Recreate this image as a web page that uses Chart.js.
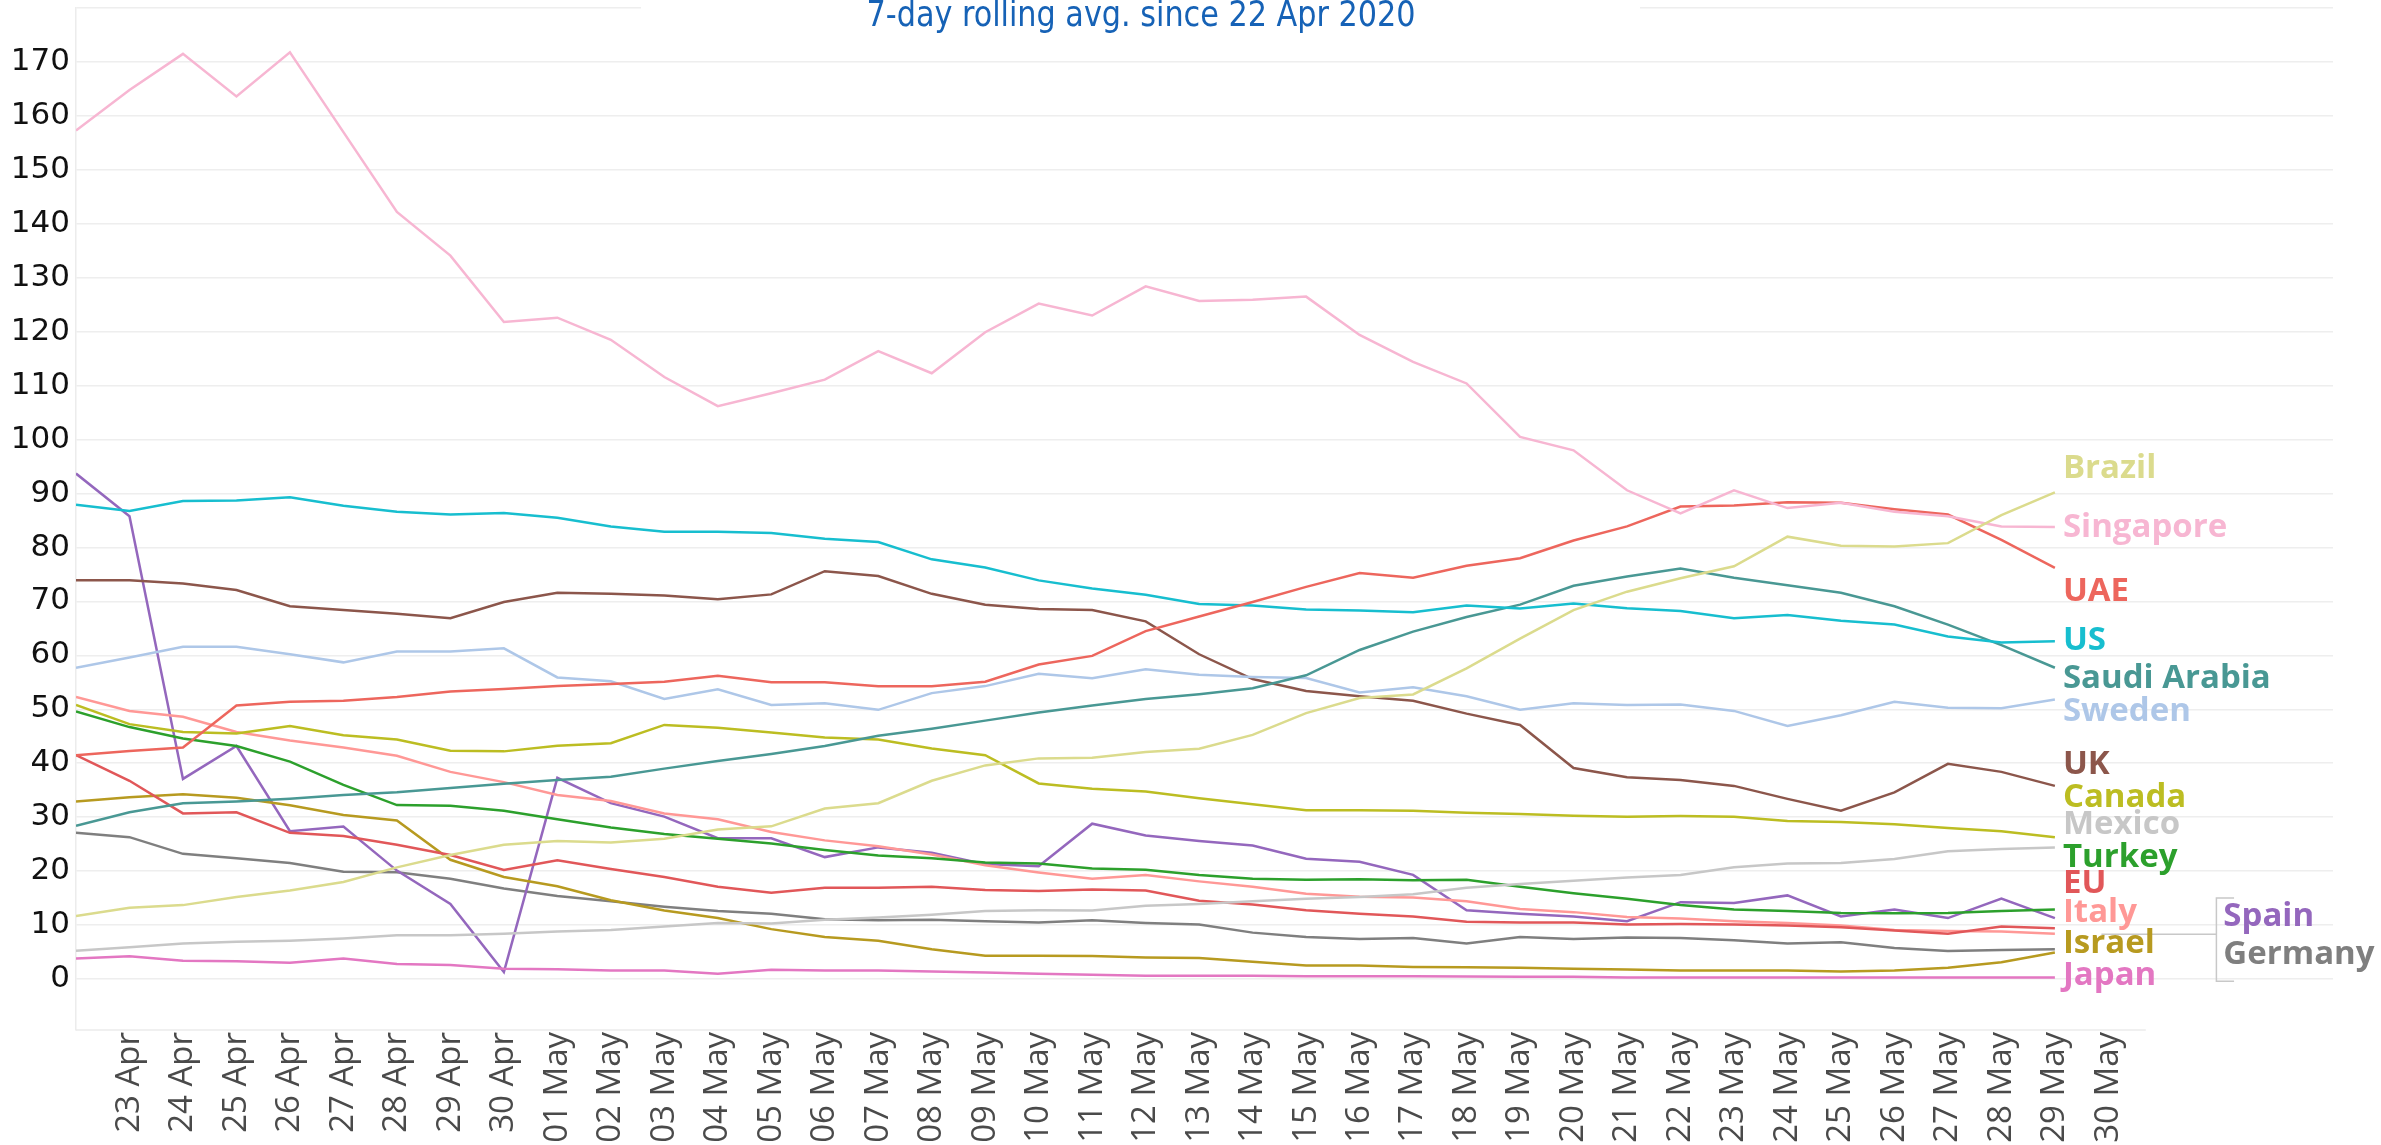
<!DOCTYPE html>
<html>
<head>
<meta charset="utf-8">
<title>7-day rolling avg. since 22 Apr 2020</title>
<script src="https://cdn.jsdelivr.net/npm/chart.js@4.4.0/dist/chart.umd.min.js"></script>
<style>
  html, body { margin: 0; padding: 0; background: #ffffff; }
  #chart { display: block; }
</style>
</head>
<body>
<canvas id="chart" width="2381" height="1145"></canvas>
<script>
// x axis: one entry per day, 22 Apr .. 30 May (data runs to 29 May)
const dayLabels = [
    '22 Apr', '23 Apr', '24 Apr', '25 Apr', '26 Apr', '27 Apr', '28 Apr', '29 Apr', '30 Apr',
    '01 May', '02 May', '03 May', '04 May', '05 May', '06 May', '07 May', '08 May', '09 May',
    '10 May', '11 May', '12 May', '13 May', '14 May', '15 May', '16 May', '17 May', '18 May',
    '19 May', '20 May', '21 May', '22 May', '23 May', '24 May', '25 May', '26 May', '27 May',
    '28 May', '29 May', '30 May'
];

const yTicks = [0, 10, 20, 30, 40, 50, 60, 70, 80, 90, 100, 110, 120, 130, 140, 150, 160, 170, 180];

// series values, 22 Apr .. 29 May
const singapore = [157.3, 164.8, 171.5, 163.6, 171.8, 157.0, 142.2, 134.1, 121.8, 122.6, 118.5, 111.6, 106.2, 108.6, 111.1, 116.4, 112.3, 119.9, 125.2, 123.0, 128.4, 125.7, 125.9, 126.5, 119.4, 114.4, 110.4, 100.5, 98.0, 90.6, 86.3, 90.6, 87.3, 88.3, 86.6, 85.8, 83.9, 83.8];
const us = [87.9, 86.75, 88.6, 88.7, 89.3, 87.75, 86.6, 86.1, 86.4, 85.5, 83.9, 82.9, 82.9, 82.7, 81.6, 81.0, 77.8, 76.3, 73.9, 72.4, 71.25, 69.5, 69.25, 68.5, 68.3, 68.0, 69.25, 68.7, 69.6, 68.75, 68.2, 66.9, 67.5, 66.4, 65.7, 63.5, 62.4, 62.6];
const spain = [93.7, 85.8, 37.1, 43.2, 27.4, 28.25, 20.1, 13.9, 1.3, 37.3, 32.6, 30.1, 26.1, 26.1, 22.6, 24.4, 23.4, 21.3, 20.9, 28.8, 26.6, 25.6, 24.75, 22.3, 21.75, 19.3, 12.75, 12.1, 11.6, 10.7, 14.25, 14.1, 15.5, 11.6, 12.9, 11.3, 14.9, 11.3];
const uk = [73.9, 73.9, 73.3, 72.1, 69.1, 68.4, 67.7, 66.9, 69.9, 71.6, 71.4, 71.1, 70.4, 71.3, 75.6, 74.7, 71.4, 69.4, 68.6, 68.4, 66.3, 60.2, 55.6, 53.4, 52.4, 51.6, 49.2, 47.1, 39.1, 37.4, 36.9, 35.8, 33.4, 31.2, 34.6, 39.9, 38.4, 35.8];
const sweden = [57.7, 59.6, 61.6, 61.6, 60.2, 58.7, 60.7, 60.7, 61.3, 55.9, 55.2, 51.9, 53.7, 50.8, 51.1, 49.9, 53.0, 54.3, 56.6, 55.75, 57.4, 56.4, 56.0, 55.8, 53.1, 54.1, 52.4, 49.9, 51.1, 50.8, 50.9, 49.7, 46.9, 48.9, 51.4, 50.3, 50.2, 51.8];
const uae = [41.5, 42.25, 42.9, 50.7, 51.4, 51.6, 52.3, 53.3, 53.75, 54.3, 54.7, 55.1, 56.2, 55.0, 55.0, 54.25, 54.25, 55.1, 58.3, 59.9, 64.5, 67.2, 69.9, 72.7, 75.25, 74.4, 76.6, 78.0, 81.3, 83.9, 87.6, 87.8, 88.4, 88.3, 87.1, 86.1, 81.4, 76.2];
const italy = [52.3, 49.7, 48.6, 45.8, 44.2, 42.9, 41.4, 38.4, 36.5, 34.1, 33.0, 30.7, 29.6, 27.25, 25.7, 24.6, 23.1, 21.1, 19.75, 18.6, 19.3, 18.1, 17.1, 15.8, 15.25, 15.1, 14.4, 13.0, 12.4, 11.5, 11.2, 10.7, 10.4, 9.9, 9.1, 8.9, 8.8, 8.4];
const canada = [50.8, 47.25, 45.8, 45.5, 46.9, 45.2, 44.4, 42.3, 42.2, 43.25, 43.7, 47.1, 46.6, 45.7, 44.75, 44.4, 42.75, 41.5, 36.25, 35.25, 34.75, 33.5, 32.4, 31.3, 31.3, 31.2, 30.8, 30.6, 30.25, 30.1, 30.2, 30.1, 29.3, 29.1, 28.7, 28.0, 27.4, 26.3];
const turkey = [49.6, 46.7, 44.6, 43.2, 40.3, 36.0, 32.25, 32.1, 31.2, 29.6, 28.1, 26.9, 26.0, 25.1, 23.9, 22.9, 22.4, 21.6, 21.4, 20.5, 20.25, 19.3, 18.6, 18.4, 18.5, 18.3, 18.4, 17.1, 15.9, 14.9, 13.7, 12.9, 12.6, 12.25, 12.2, 12.25, 12.6, 12.9];
const eu = [41.5, 36.75, 30.7, 30.9, 27.1, 26.5, 24.9, 23.0, 20.2, 22.0, 20.4, 18.9, 17.1, 16.0, 16.9, 16.9, 17.1, 16.5, 16.3, 16.6, 16.4, 14.5, 13.8, 12.75, 12.1, 11.6, 10.6, 10.5, 10.5, 10.1, 10.2, 10.1, 9.9, 9.6, 9.0, 8.4, 9.75, 9.4];
const israel = [32.9, 33.7, 34.25, 33.6, 32.2, 30.4, 29.4, 22.1, 18.9, 17.2, 14.6, 12.7, 11.3, 9.25, 7.8, 7.1, 5.5, 4.3, 4.3, 4.25, 4.0, 3.9, 3.2, 2.5, 2.5, 2.25, 2.2, 2.1, 1.9, 1.75, 1.6, 1.6, 1.6, 1.4, 1.6, 2.1, 3.1, 4.9];
const saudiArabia = [28.4, 30.9, 32.6, 32.9, 33.4, 34.1, 34.6, 35.4, 36.2, 36.9, 37.5, 39.0, 40.4, 41.7, 43.2, 45.1, 46.4, 47.9, 49.4, 50.7, 51.9, 52.8, 53.9, 56.3, 61.0, 64.4, 67.1, 69.4, 72.9, 74.6, 76.1, 74.4, 73.0, 71.6, 69.1, 65.7, 61.9, 57.7];
const germany = [27.1, 26.3, 23.2, 22.4, 21.5, 19.9, 19.8, 18.6, 16.8, 15.4, 14.4, 13.4, 12.6, 12.1, 11.1, 10.9, 11.0, 10.7, 10.5, 10.9, 10.4, 10.1, 8.6, 7.8, 7.4, 7.6, 6.6, 7.8, 7.4, 7.7, 7.6, 7.2, 6.6, 6.8, 5.75, 5.2, 5.4, 5.5];
const brazil = [11.7, 13.2, 13.7, 15.2, 16.4, 18.0, 20.7, 23.0, 24.9, 25.6, 25.3, 26.0, 27.7, 28.3, 31.6, 32.6, 36.75, 39.6, 40.9, 41.0, 42.1, 42.7, 45.25, 49.3, 52.1, 52.75, 57.6, 63.1, 68.4, 71.8, 74.3, 76.5, 82.0, 80.3, 80.2, 80.8, 86.0, 90.2];
const mexico = [5.25, 5.9, 6.6, 6.9, 7.1, 7.5, 8.1, 8.1, 8.4, 8.8, 9.1, 9.75, 10.4, 10.3, 11.0, 11.4, 11.9, 12.6, 12.75, 12.7, 13.6, 13.9, 14.4, 14.9, 15.2, 15.7, 16.9, 17.6, 18.2, 18.8, 19.3, 20.7, 21.4, 21.5, 22.25, 23.7, 24.1, 24.4];
const japan = [3.8, 4.2, 3.4, 3.3, 3.0, 3.8, 2.8, 2.6, 1.9, 1.8, 1.6, 1.6, 1.0, 1.7, 1.6, 1.6, 1.4, 1.2, 1.0, 0.8, 0.6, 0.6, 0.6, 0.5, 0.5, 0.5, 0.45, 0.4, 0.4, 0.3, 0.3, 0.3, 0.3, 0.3, 0.3, 0.3, 0.3, 0.3];

const countries = ['Brazil', 'Singapore', 'UAE', 'US', 'Saudi Arabia', 'Sweden', 'UK', 'Canada',
                   'Mexico', 'Turkey', 'EU', 'Italy', 'Israel', 'Japan', 'Spain', 'Germany'];
const seriesValues = [brazil, singapore, uae, us, saudiArabia, sweden, uk, canada,
                      mexico, turkey, eu, italy, israel, japan, spain, germany];
const seriesColors = ['#dbdb8d', '#f7b6d2', '#ed665d', '#17becf', '#499894', '#aec7e8', '#8c564b', '#bcbd22',
                      '#c7c7c7', '#2ca02c', '#e15759', '#ff9896', '#b79a20', '#e377c2', '#9467bd', '#7f7f7f'];

// end-of-line label spots (day index, value) - Spain/Germany sit in the bracket box
const labelSpots = [
    [37.15, 94.6], [37.15, 83.7], [37.15, 71.9], [37.15, 62.7], [37.15, 55.6], [37.15, 49.6],
    [37.15, 39.7], [37.15, 33.7], [37.15, 28.6], [37.15, 22.5], [37.15, 17.75], [37.15, 12.4],
    [37.15, 6.6], [37.15, 0.7], [40.15, 11.6], [40.15, 4.5]
];

const endLabels = {
    id: 'endLabels',
    afterDraw(chart) {
        const ctx = chart.ctx;
        const xs = chart.scales.x;
        const ys = chart.scales.y;
        const area = chart.chartArea;
        ctx.save();

        // title sits on the top gridline, with a white gap behind it
        ctx.fillStyle = '#ffffff';
        ctx.fillRect(641, 0, 999, 20);
        const title = '7-day rolling avg. since 22 Apr 2020';
        ctx.fillStyle = '#1662b6';
        ctx.font = '36px "Liberation Sans Narrow", "DejaVu Sans Condensed", sans-serif';
        ctx.textAlign = 'center';
        ctx.textBaseline = 'alphabetic';
        const squeeze = 549 / ctx.measureText(title).width;
        ctx.save();
        ctx.translate(1141, 26);
        ctx.scale(squeeze, 1);
        ctx.fillText(title, 0, 0);
        ctx.restore();

        // short x axis base line
        ctx.strokeStyle = '#ebebeb';
        ctx.lineWidth = 1.5;
        ctx.beginPath();
        ctx.moveTo(area.left, area.bottom);
        ctx.lineTo(xs.getPixelForValue(38.7), area.bottom);
        ctx.stroke();

        // bracket for Spain / Germany
        ctx.strokeStyle = '#c8c8c8';
        ctx.lineWidth = 1.5;
        const bx = xs.getPixelForValue(40.02);
        const bx2 = xs.getPixelForValue(40.35);
        const byTop = ys.getPixelForValue(15.0);
        const byBot = ys.getPixelForValue(-0.4);
        ctx.beginPath();
        ctx.moveTo(bx2, byTop);
        ctx.lineTo(bx, byTop);
        ctx.lineTo(bx, byBot);
        ctx.lineTo(bx2, byBot);
        ctx.moveTo(xs.getPixelForValue(37.87), ys.getPixelForValue(8.3));
        ctx.lineTo(bx, ys.getPixelForValue(8.3));
        ctx.stroke();

        ctx.font = 'bold 33px "Open Sans", "DejaVu Sans", sans-serif';
        ctx.textAlign = 'left';
        ctx.textBaseline = 'middle';
        countries.forEach((name, i) => {
            const spot = labelSpots[i];
            ctx.fillStyle = seriesColors[i];
            ctx.fillText(name, xs.getPixelForValue(spot[0]), ys.getPixelForValue(spot[1]));
        });
        ctx.restore();
    }
};

const datasets = countries.map((name, i) => ({
    label: name,
    data: seriesValues[i].map((v, d) => ({ x: d, y: v })),
    borderColor: seriesColors[i],
    backgroundColor: seriesColors[i],
    borderWidth: 2.5,
    pointRadius: 0,
    tension: 0,
    fill: false
}));

new Chart(document.getElementById('chart').getContext('2d'), {
    type: 'line',
    data: { datasets: datasets },
    plugins: [endLabels],
    options: {
        responsive: false,
        animation: false,
        devicePixelRatio: 1,
        layout: { padding: { top: 8, right: 48, left: 0, bottom: 0 } },
        plugins: {
            legend: { display: false },
            tooltip: { enabled: false }
        },
        scales: {
            x: {
                type: 'linear',
                min: 0,
                max: 42.2,
                grid: { display: false, drawTicks: false },
                border: { display: false },
                afterBuildTicks: (scale) => {
                    scale.ticks = dayLabels.map((_, i) => ({ value: i })).slice(1);
                },
                afterFit: (scale) => {
                    scale.height = 115;
                    scale.paddingLeft = 0;
                    scale.paddingRight = 0;
                },
                ticks: {
                    autoSkip: false,
                    minRotation: 90,
                    maxRotation: 90,
                    padding: 2,
                    color: '#4a4a4a',
                    font: { family: '"Open Sans", sans-serif', size: 33 },
                    callback: (value) => dayLabels[value]
                }
            },
            y: {
                min: -9.45,
                max: 180,
                grid: { color: '#eeeeee', lineWidth: 1.5, drawTicks: false },
                border: { display: true, color: '#ececec', width: 1.5 },
                afterBuildTicks: (scale) => {
                    scale.ticks = yTicks.map(v => ({ value: v }));
                },
                afterFit: (scale) => {
                    scale.width = 76;
                    scale.paddingTop = 0;
                    scale.paddingBottom = 0;
                },
                ticks: {
                    padding: 6,
                    color: '#111111',
                    font: { family: '"DejaVu Sans", sans-serif', size: 31 },
                    callback: (value) => value > 170 ? '' : value
                }
            }
        }
    }
});
</script>
</body>
</html>
